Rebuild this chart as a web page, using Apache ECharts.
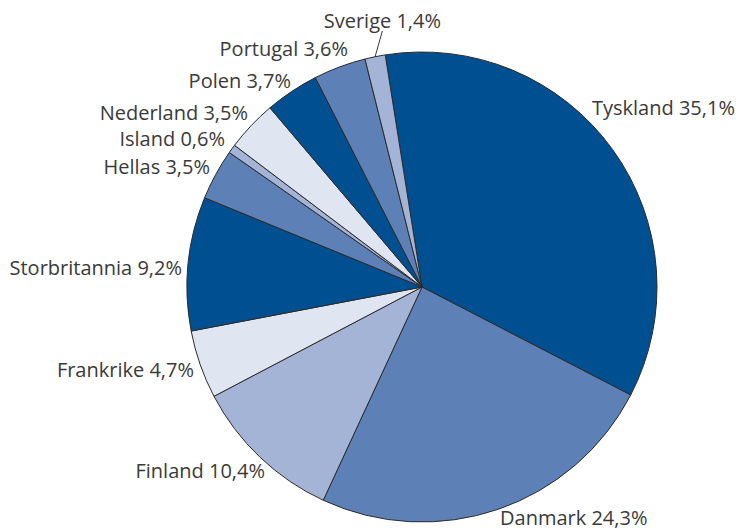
<!DOCTYPE html>
<html>
<head>
<meta charset="utf-8">
<script src="https://cdn.jsdelivr.net/npm/echarts@6/dist/echarts.min.js"></script>
<style>
  html, body { margin: 0; padding: 0; background: #fff; }
  #chart { width: 740px; height: 530px; }
</style>
</head>
<body>
<div id="chart"></div>
<script>
var countries = ['Tyskland', 'Danmark', 'Finland', 'Frankrike', 'Storbritannia', 'Hellas',
  'Island', 'Nederland', 'Polen', 'Portugal', 'Sverige'];
var shares = [35.1, 24.3, 10.4, 4.7, 9.2, 3.5, 0.6, 3.5, 3.7, 3.6, 1.4];

var palette = ['#004f91', '#5d80b6', '#a3b4d7', '#dfe5f1'];
// label anchor points: [x, y, align]
var labelPos = [
  [592, 107, 'left'], [500, 517, 'left'], [265, 470, 'right'], [194, 369, 'right'],
  [182, 267, 'right'], [210, 166, 'right'], [225, 138, 'right'], [248, 112, 'right'],
  [291, 80, 'right'], [348, 48, 'right'], [441, 20, 'right']
];

(function() {
  var chart = echarts.init(document.getElementById('chart'), null, { renderer: 'svg' });
  var data = countries.map(function(c, i) {
    var item = { name: c, value: shares[i], itemStyle: { color: palette[i % 4] } };
    if (c === 'Sverige') item.labelLine = { show: true, length: 14, length2: 0 };
    return item;
  });
  chart.setOption({
    animation: false,
    series: [{
      type: 'pie',
      center: [422, 287],
      radius: 235,
      startAngle: 99,
      clockwise: true,
      avoidLabelOverlap: false,
      itemStyle: { borderColor: '#2b2b2b', borderWidth: 1 },
      label: {
        show: true,
        position: 'outside',
        color: '#3a3a3a',
        fontFamily: 'Open Sans',
        fontSize: 20,
        lineHeight: 22,
        formatter: function(p) { return p.name + ' ' + String(p.value).replace('.', ',') + '%'; }
      },
      labelLine: { show: false, lineStyle: { color: '#3a3a3a', width: 1 } },
      labelLayout: function(params) {
        var p = labelPos[params.dataIndex];
        return { x: p[0], y: p[1], align: p[2], verticalAlign: 'middle' };
      },
      data: data
    }]
  });
  window.addEventListener('resize', function() { chart.resize(); });
})();
</script>
</body>
</html>
